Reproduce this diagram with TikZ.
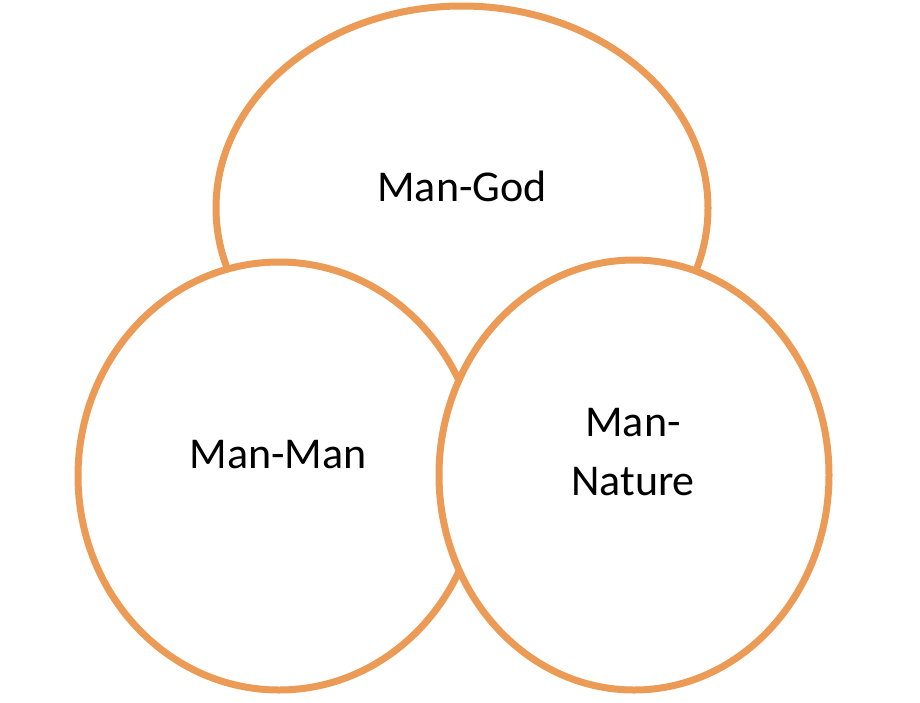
\documentclass[tikz,border=0pt]{standalone}
\usepackage{fontspec}
\setmainfont{Carlito}
\usepackage{xcolor}
\usetikzlibrary{shapes.geometric}
\definecolor{ringorange}{RGB}{235,155,85}

\begin{document}
\begin{tikzpicture}[x=1pt,y=-1pt,
   ring/.style={ellipse,draw=ringorange,line width=7pt,fill=white,inner sep=0pt},
   label/.style={font=\fontsize{44}{59}\selectfont,align=center,inner sep=0pt}]
   \useasboundingbox (0,0) rectangle (920,702);
   \node[ring,minimum width=492pt,minimum height=404pt] (god)    at (462,208) {};
   \node[ring,minimum width=402pt,minimum height=428pt] (man)    at (279,476) {};
   \node[ring,minimum width=390pt,minimum height=430pt] (nature) at (634,475) {};
   \node[label,anchor=base] (god_t)    at (462,201) {Man-God};
   \node[label,anchor=base] (man_t)    at (278,468) {Man-Man};
   \node[label]             (nature_t) at (633,452) {Man-\\Nature};
\end{tikzpicture}
\end{document}
